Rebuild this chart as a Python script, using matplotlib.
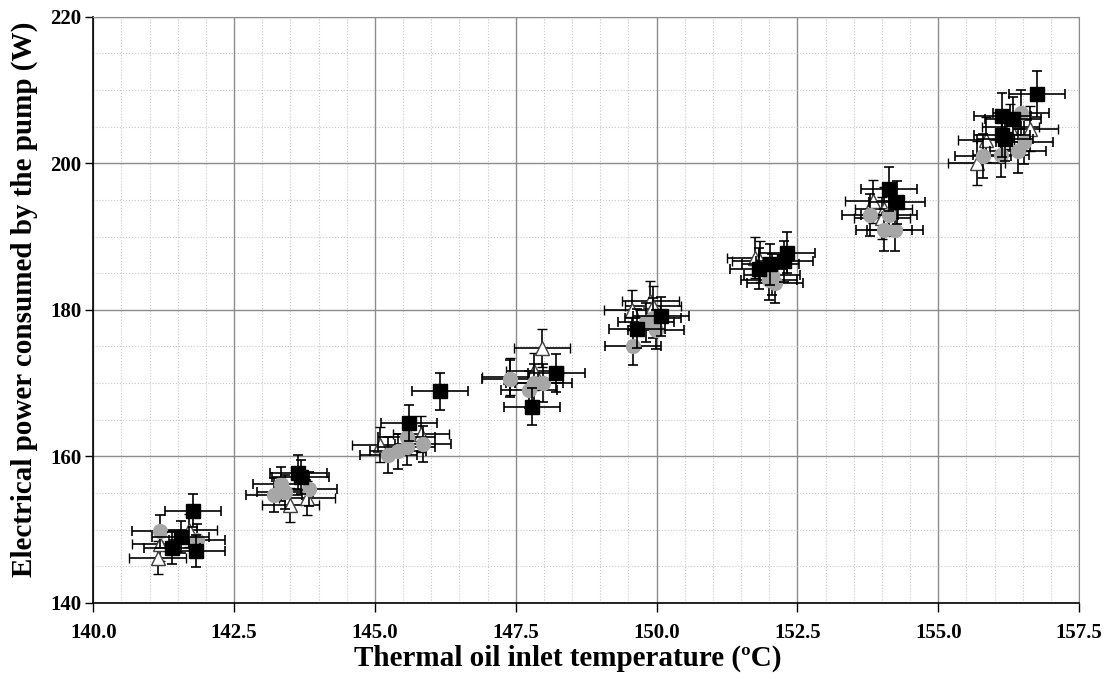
import numpy as np
import matplotlib.pyplot as plt
from matplotlib.ticker import MultipleLocator, FormatStrFormatter

# series (temperature in degC, power in W)
sq_t = [141.77, 141.55, 141.40, 141.83, 143.64, 143.68, 146.16, 145.60,
        148.22, 147.79, 150.08, 149.65, 152.32, 152.27, 152.02, 151.81,
        154.13, 154.27, 156.75, 156.14, 156.33, 156.13, 156.19]
sq_p = [152.6, 149.0, 147.5, 147.1, 157.8, 157.2, 168.9, 164.6,
        171.4, 166.8, 179.1, 177.4, 187.8, 186.6, 186.2, 185.6,
        196.5, 194.7, 209.5, 206.5, 206.0, 203.9, 203.3]

tri_t = [141.69, 141.19, 141.14, 143.50, 143.79, 145.09, 145.82,
         147.96, 147.83, 147.40, 149.89, 149.56, 149.93, 151.75, 151.84,
         153.84, 154.03, 154.00, 155.85, 155.68, 156.28, 156.62]
tri_p = [149.9, 148.0, 146.2, 153.4, 154.3, 161.6, 163.0,
         174.8, 171.6, 170.9, 181.2, 180.0, 180.5, 187.1, 186.6,
         194.8, 193.8, 192.5, 203.2, 200.0, 205.0, 204.7]

cir_t = [141.19, 141.84, 143.34, 143.40, 143.21, 143.82, 145.56, 145.85,
         145.56, 145.41, 145.24, 147.40, 147.83, 147.99, 147.73, 149.81,
         149.93, 149.99, 149.58, 151.99, 152.10, 152.05, 153.79, 154.12,
         154.04, 154.23, 156.47, 156.53, 156.42, 156.11, 155.79]
cir_p = [149.8, 148.6, 156.2, 155.1, 154.7, 155.5, 162.7, 161.7,
         161.3, 160.7, 160.2, 170.6, 170.0, 170.0, 169.1, 178.3,
         178.9, 177.3, 175.1, 184.1, 183.7, 184.8, 192.9, 192.9,
         190.9, 190.9, 206.9, 202.9, 201.7, 201.1, 201.0]

t_err = 0.5      # degC
p_rel_err = 0.015

plt.rcParams['font.family'] = ['Liberation Serif', 'DejaVu Serif']
plt.rcParams['font.weight'] = 'bold'

fig = plt.figure(figsize=(11.15, 6.79), dpi=100)
ax = fig.add_axes([0.0837, 0.112, 0.8841, 0.8634])

ebkw = dict(ls='none', ecolor='black', elinewidth=1.2, capsize=3.5, capthick=1.2)
ax.errorbar(tri_t, tri_p, xerr=t_err, yerr=np.array(tri_p) * p_rel_err,
            marker='^', ms=10, mfc='white', mec='#404040', mew=1, zorder=3, **ebkw)
ax.errorbar(cir_t, cir_p, xerr=t_err, yerr=np.array(cir_p) * p_rel_err,
            marker='o', ms=10, mfc='#a6a6a6', mec='#a6a6a6', zorder=4, **ebkw)
ax.errorbar(sq_t, sq_p, xerr=t_err, yerr=np.array(sq_p) * p_rel_err,
            marker='s', ms=10, mfc='black', mec='black', zorder=5, **ebkw)

ax.set_xlim(140, 157.5)
ax.set_ylim(140, 220)
ax.xaxis.set_major_locator(MultipleLocator(2.5))
ax.xaxis.set_minor_locator(MultipleLocator(0.5))
ax.yaxis.set_major_locator(MultipleLocator(20))
ax.yaxis.set_minor_locator(MultipleLocator(5))
ax.xaxis.set_major_formatter(FormatStrFormatter('%.1f'))

ax.grid(which='major', color='#8c8c8c', lw=1, zorder=0)
ax.grid(which='minor', color='#c8c8c8', lw=0.8, ls=':', zorder=0)
ax.set_axisbelow(True)
ax.tick_params(which='major', direction='out', width=1, labelsize=15)
ax.tick_params(axis='x', which='major', length=6.5, pad=8)
ax.tick_params(axis='y', which='major', length=5.5, pad=3)
ax.tick_params(which='minor', length=0)
for s in ['top', 'right']:
    ax.spines[s].set_color('#8c8c8c')
for s in ['left', 'bottom']:
    ax.spines[s].set_linewidth(1.2)

ax.set_xlabel('Thermal oil inlet temperature (ºC)', fontsize=21, fontweight='bold')
ax.set_ylabel('Electrical power consumed by the pump (W)', fontsize=21, fontweight='bold')
ax.xaxis.set_label_coords(0.481, -0.072)
ax.yaxis.set_label_coords(-0.056, 0.518)

fig.savefig('out.png', dpi=100)
